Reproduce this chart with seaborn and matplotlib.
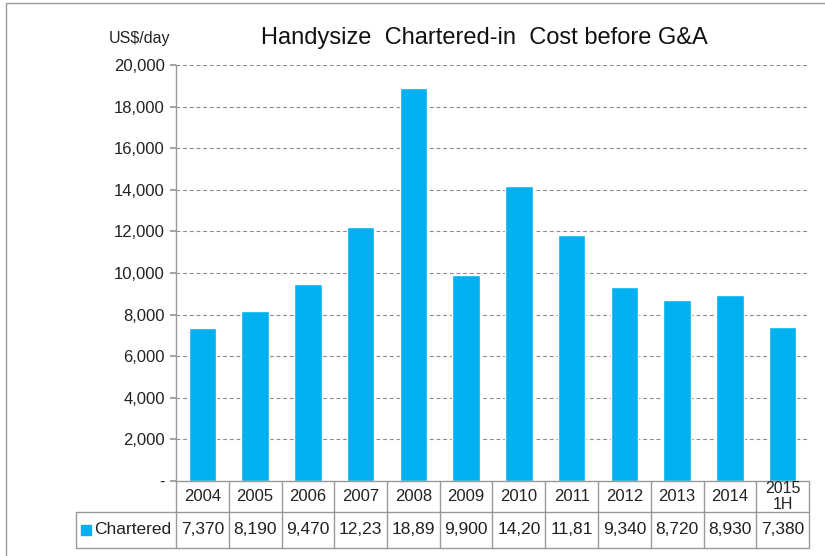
import matplotlib
matplotlib.use("Agg")
import matplotlib.pyplot as plt
import seaborn as sns
import pandas as pd
from matplotlib.lines import Line2D
from matplotlib.patches import Rectangle

categories = ["2004", "2005", "2006", "2007", "2008", "2009", "2010", "2011",
              "2012", "2013", "2014", "2015\n1H"]
values = [7370, 8190, 9470, 12230, 18890, 9900, 14200, 11810, 9340, 8720, 8930, 7380]
table_labels = ["7,370", "8,190", "9,470", "12,23", "18,89", "9,900", "14,20", "11,81",
                "9,340", "8,720", "8,930", "7,380"]
series_name = "Chartered"
yticks = list(range(0, 20001, 2000))
ytick_labels = ["-"] + [f"{v:,}" for v in yticks[1:]]

sns.set_theme(style="white")
plt.rcParams["font.family"] = ["Liberation Sans", "DejaVu Sans"]

W, H = 825, 556
fig = plt.figure(figsize=(W / 100, H / 100), dpi=100)
L, R, T, B = 176, 809, 65, 481
ax = fig.add_axes([L / W, 1 - B / H, (R - L) / W, (B - T) / H])

color = "#00B0F0"
df = pd.DataFrame({"year": categories, "value": values})
sns.barplot(data=df, x="year", y="value", color=color, width=0.52,
            saturation=1, ax=ax, zorder=3)
ax.set_xlim(-0.5, len(categories) - 0.5)
ax.set_ylim(0, 20000)
ax.set_yticks(yticks)
ax.set_yticklabels(ytick_labels, fontsize=12, color="#222222")
ax.set_xticks([])
ax.set_xlabel("")
ax.set_ylabel("")
for y in yticks[1:]:
    ax.axhline(y, color="#8c8c8c", lw=0.8, ls=(0, (3.5, 2.5)), zorder=1)
for s in ["top", "right", "bottom"]:
    ax.spines[s].set_visible(False)
ax.spines["left"].set_color("#999999")
ax.spines["left"].set_linewidth(1.0)
ax.tick_params(axis="y", length=4, color="#999999", pad=4, left=True)

# title and unit
fig.text(484 / W, 1 - 38 / H, "Handysize  Chartered-in  Cost before G&A",
         ha="center", va="center", fontsize=17, color="#111111")
fig.text(140 / W, 1 - 38 / H, "US$/day", ha="center", va="center",
         fontsize=11.5, color="#222222")

# data table
gc = "#999999"
def fline(x0, y0, x1, y1):
    fig.add_artist(Line2D([x0 / W, x1 / W], [1 - y0 / H, 1 - y1 / H],
                          color=gc, lw=1.0, transform=fig.transFigure))

row1_top, row1_bot, row2_bot = 481, 512, 548
left_cell = 76
slot = (R - L) / len(categories)
fline(L, row1_top, R, row1_top)
fline(left_cell, row1_bot, R, row1_bot)
fline(left_cell, row2_bot, R, row2_bot)
fline(left_cell, row1_bot, left_cell, row2_bot)
for i in range(len(categories) + 1):
    x = L + i * slot
    fline(x, row1_top, x, row2_bot)
for i, (c, lab) in enumerate(zip(categories, table_labels)):
    xc = L + (i + 0.5) * slot
    multi = "\n" in c
    fs = 11.5 if multi else 12
    fig.text(xc / W, 1 - (row1_top + row1_bot) / 2 / H, c, ha="center", va="center",
             fontsize=fs, color="#222222", linespacing=1.05)
    fig.text(xc / W, 1 - (row1_bot + row2_bot) / 2 / H, lab, ha="center", va="center",
             fontsize=12.5, color="#222222")
fig.add_artist(Rectangle((81 / W, 1 - 535 / H), 10 / W, 10 / H, color=color,
                         transform=fig.transFigure))
fig.text(94 / W, 1 - (row1_bot + row2_bot) / 2 / H, series_name, ha="left",
         va="center", fontsize=12.5, color="#222222")

# outer frame
fline(6, 3, W, 3)
fline(6, 3, 6, H)

fig.savefig("out.png", dpi=100)
